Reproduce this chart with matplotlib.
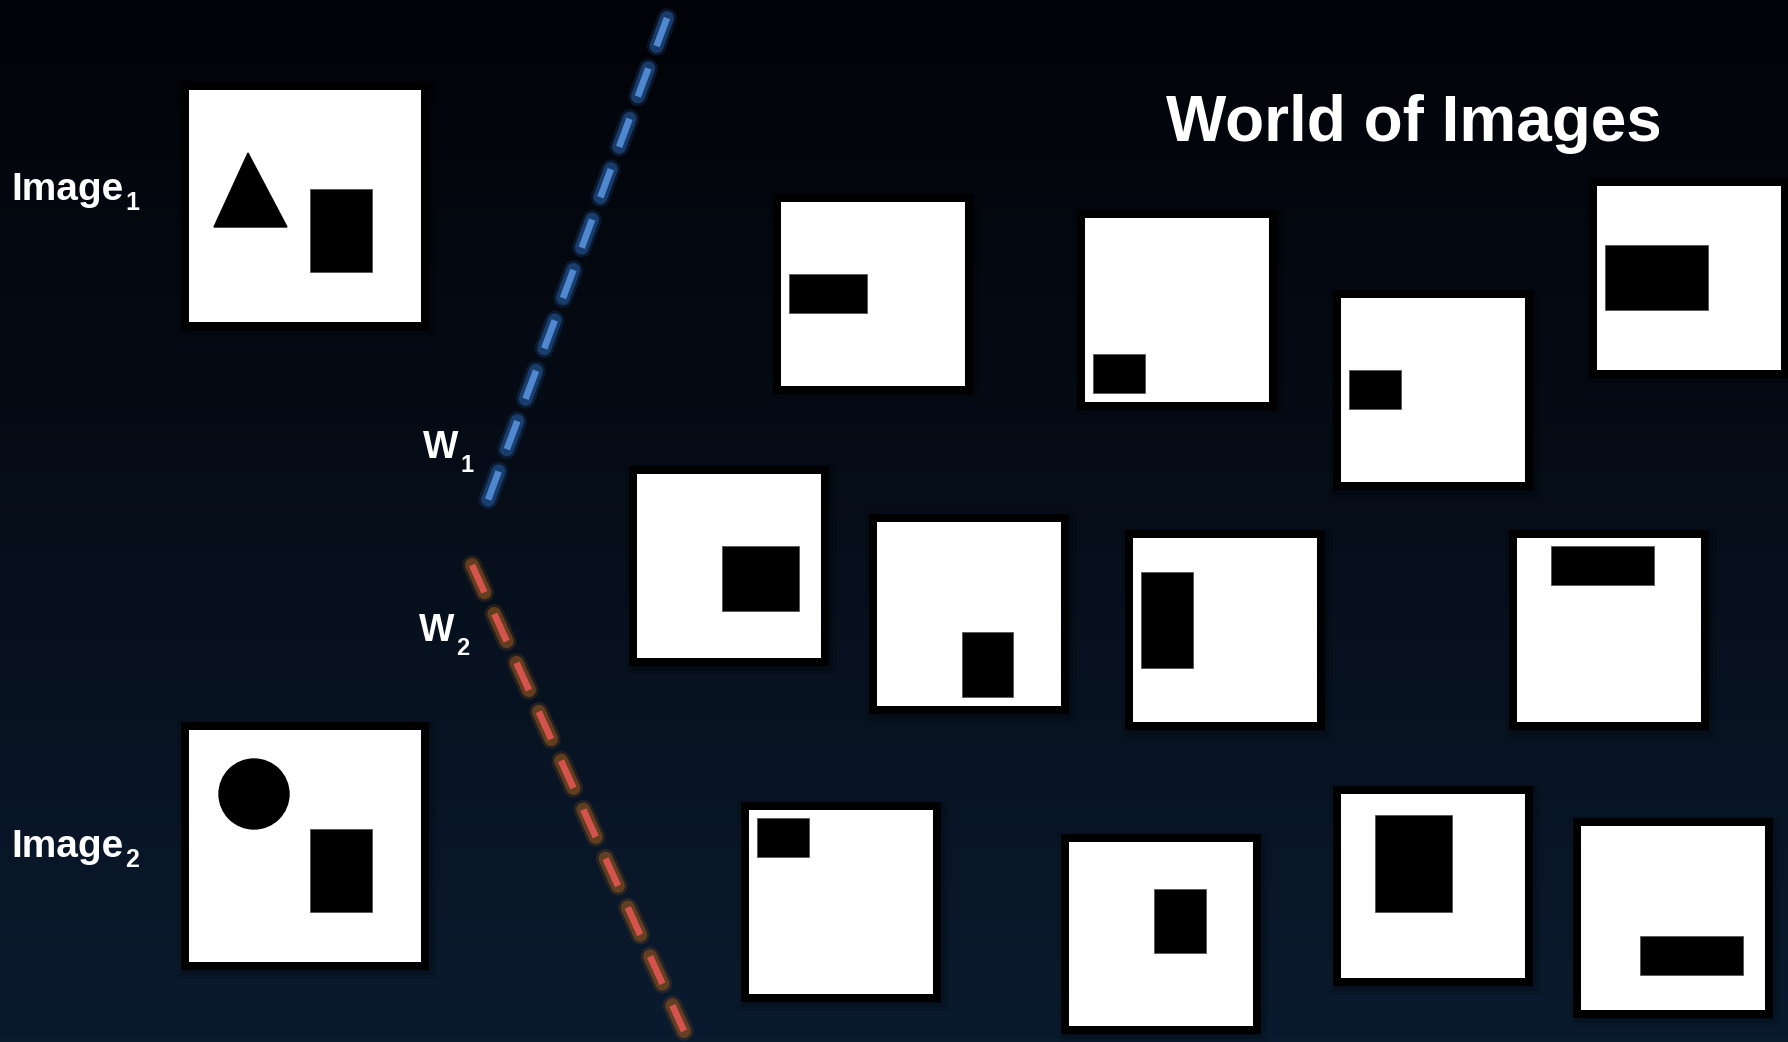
import matplotlib
matplotlib.use("Agg")
import matplotlib.pyplot as plt
import numpy as np
from matplotlib.patches import Rectangle, Polygon, Circle

plt.rcParams['lines.scale_dashes'] = False
FONT = 'Liberation Sans'

# ---- diagram content (pixel coords, y down) ----
title = 'World of Images'
query_labels = ['Image', 'Image']
query_subs = ['1', '2']
query_label_xy = [(11, 200), (11, 857)]
query_boxes = [(189, 90), (189, 730)]
# image 1: triangle + rectangle, image 2: circle + rectangle
triangle_pts = [(214, 227), (248, 153), (287, 227)]
circle_c, circle_r = (254, 794), 35
query_blocks = [(310, 189, 372, 272), (310, 829, 372, 912)]

# world thumbnails: top-left of white square and black block (x0, y0, x1, y1)
world_boxes = [(781, 202), (1085, 218), (1341, 298), (1597, 186),
               (637, 474), (877, 522), (1133, 538), (1517, 538),
               (749, 810), (1069, 842), (1341, 794), (1581, 826)]
world_blocks = [(789, 274, 867, 313), (1093, 354, 1145, 393), (1349, 370, 1401, 409), (1605, 245, 1708, 310),
                (722, 546, 799, 611), (962, 632, 1013, 697), (1141, 572, 1193, 668), (1551, 546, 1654, 585),
                (757, 818, 809, 857), (1154, 889, 1206, 953), (1375, 815, 1452, 912), (1640, 936, 1743, 975)]

# projection lines w1 / w2
w_names = ['W', 'W']
w_subs = ['1', '2']
w_label_xy = [(423, 458), (419, 641)]
w_lines = [((667, 18), (488, 500)), ((472, 565), (684, 1031))]
w_core = ['#5088cf', '#d4534d']
w_glow = ['#1f4c86', '#7d4b1f']

W, H = 1788, 1042
fig = plt.figure(figsize=(W / 100, H / 100), dpi=100)
ax = fig.add_axes([0, 0, 1, 1])
ax.set_xlim(0, W)
ax.set_ylim(H, 0)
ax.axis('off')

# background: dark vertical gradient
top = np.array([2, 3, 8]) / 255
bot = np.array([11, 27, 47]) / 255
t = np.linspace(0, 1, 256)[:, None]
grad = top + (bot - top) * t ** 1.1
ax.imshow(grad[:, None, :].repeat(4, axis=1), extent=(0, W, H, 0), aspect='auto', zorder=0)


def frame(x, y, s):
    for k, a in [(14, 0.10), (10, 0.15), (6, 0.25)]:
        ax.add_patch(Rectangle((x - k + 2, y - k + 3), s + 2 * k, s + 2 * k,
                               color='black', alpha=a, lw=0, zorder=1))
    ax.add_patch(Rectangle((x - 8, y - 8), s + 16, s + 16, color='black', lw=0, zorder=2))
    ax.add_patch(Rectangle((x, y), s, s, color='white', lw=0, zorder=3))


def block(b):
    x0, y0, x1, y1 = b
    ax.add_patch(Rectangle((x0, y0), x1 - x0, y1 - y0, facecolor='black',
                           edgecolor='#555555', lw=0.6, zorder=4))


for (x, y) in query_boxes:
    frame(x, y, 232)
for b in query_blocks:
    block(b)
ax.add_patch(Polygon(triangle_pts, closed=True, color='black', zorder=4))
ax.add_patch(Circle(circle_c, circle_r, color='black', zorder=4))

for (x, y), b in zip(world_boxes, world_blocks):
    frame(x, y, 184)
    block(b)

# glowing dashed lines
dash = (0, (21.6, 17.1))
for (p0, p1), cc, gc in zip(w_lines, w_core, w_glow):
    xs, ys = [p0[0], p1[0]], [p0[1], p1[1]]
    ax.plot(xs, ys, color=gc, lw=14, alpha=0.25, linestyle=dash,
            dash_capstyle='round', zorder=5)
    ax.plot(xs, ys, color=gc, lw=10, alpha=0.7, linestyle=dash,
            dash_capstyle='round', zorder=5)
    ax.plot(xs, ys, color=cc, lw=4.8, linestyle=dash, dash_capstyle='butt', zorder=6)


def label(xy, main, sub, size, subsize, dx, dy):
    tx = ax.text(xy[0], xy[1], main, fontsize=size, fontweight='bold', color='white',
                 va='baseline', ha='left', family=FONT, zorder=7)
    ax.annotate(sub, xy=(1, 0), xycoords=tx, xytext=(dx, dy), textcoords='offset points',
                fontsize=subsize, fontweight='bold', color='white', va='baseline',
                ha='left', family=FONT, zorder=7)


for xy, m, s in zip(query_label_xy, query_labels, query_subs):
    label(xy, m, s, 28, 18, 1.5, -1.5)
for xy, m, s in zip(w_label_xy, w_names, w_subs):
    label(xy, m, s, 27, 17, 1.5, -4.0)

ax.text(1166, 141, title, fontsize=46, fontweight='bold', color='white',
        va='baseline', ha='left', family=FONT, zorder=7)

fig.savefig('out.png', dpi=100)
